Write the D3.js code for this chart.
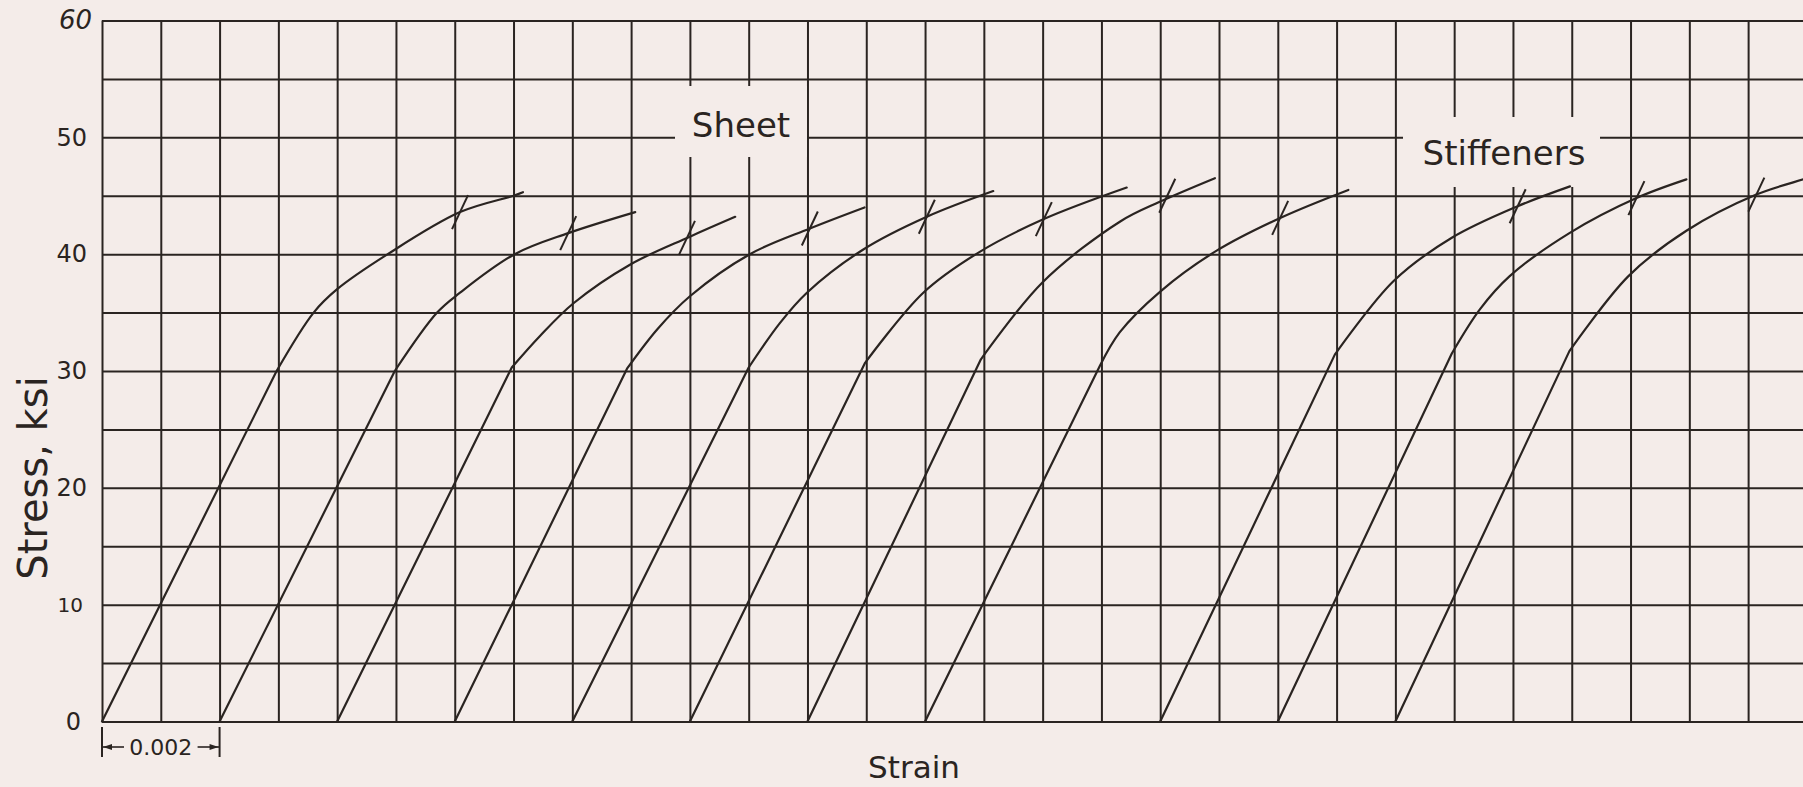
<!DOCTYPE html>
<html><head><meta charset="utf-8">
<script src="https://cdn.jsdelivr.net/npm/d3@7/dist/d3.min.js"></script>
<style>html,body{margin:0;padding:0;background:#f4ece9;overflow:hidden}</style>
</head><body><svg id="chart" width="1803" height="787"></svg>
<script>
// ---------------- data ----------------
const stressLabels = [0, 10, 20, 30, 40, 50, 60];          // ksi
const stressGrid = [0, 5, 10, 15, 20, 25, 30, 35, 40, 45, 50, 55, 60];
const strainCells = 29;                                      // grid divisions of 0.001
const sheetOffsets = [0, 0.002, 0.004, 0.006, 0.008, 0.010, 0.012, 0.014];
const stiffenerOffsets = [0.018, 0.020, 0.022];
// each curve: [strain above its own origin (x 0.001), stress ksi]; 2nd point = end of straight part
const sheet1 = [[0,0],[2.97,30],[3.6,35],[4,37],[4.86,40],[6.09,43.6],[7,45],[7.16,45.3]];
const sheet2 = [[0,0],[2.98,30],[3.7,35],[4.09,36.7],[5.02,40],[5.93,41.8],[7.07,43.6]];
const sheet3 = [[0,0],[2.97,30.3],[3.45,33],[4.02,35.8],[4.98,39.1],[6,41.5],[6.77,43.2]];
const sheet4 = [[0,0],[2.93,30.2],[3.45,33.6],[4,36.4],[5.02,40],[6.04,42.2],[6.97,44]];
const sheet5 = [[0,0],[3,30.3],[3.53,34.1],[3.99,36.7],[4.95,40.4],[6.03,43.2],[7.16,45.4]];
const sheet6 = [[0,0],[2.98,30.7],[3.97,36.7],[4.93,40.2],[6.02,43],[7.43,45.7]];
const sheet7 = [[0,0],[2.95,31],[4,37.6],[5.32,42.8],[6,44.5],[6.93,46.5]];
const sheet8 = [[0,0],[2.97,30.4],[3.31,33.3],[4,36.8],[4.96,40.3],[6.04,43.1],[7.2,45.5]];
const stiff1 = [[0,0],[2.97,31.4],[3.97,37.7],[4.96,41.4],[6.08,44.1],[6.97,45.8]];
const stiff2 = [[0,0],[2.96,31.5],[3.44,35.3],[3.94,38.1],[4.96,41.8],[6.1,44.8],[6.95,46.4]];
const stiff3 = [[0,0],[2.96,31.7],[3.96,38.1],[4.95,42],[6.14,45.1],[7,46.5],[7.3,47]];
const sheetCurves = [sheet1, sheet2, sheet3, sheet4, sheet5, sheet6, sheet7, sheet8];
const stiffenerCurves = [stiff1, stiff2, stiff3];
const sheetMarks = [[6.09,43.6],[5.93,41.8],[5.95,41.4],[6.04,42.2],[6.03,43.2],[6.02,43],[6.12,45],[6.04,43.1]];
const stiffenerMarks = [[6.08,44.1],[6.1,44.8],[6.14,45.1]];

// ---------------- drawing ----------------
const ink = "#2a2421", paper = "#f4ece9";
const W = 1803, H = 787;
const font = "DejaVu Sans";
const svg = d3.select("#chart");
svg.append("rect").attr("width", W).attr("height", H).attr("fill", paper);

const x = d3.scaleLinear().domain([0, strainCells * 0.001]).range([102, 102 + strainCells * 58.79]);
const y = d3.scaleLinear().domain([0, 60]).range([721.5, 20.5]);

// grid via axes
const gx = svg.append("g").attr("transform", `translate(0,${y(0)})`)
  .call(d3.axisBottom(x).ticks(strainCells).tickSize(-(y(0) - y(60))).tickFormat(""));
const gy = svg.append("g").attr("transform", `translate(${x(0)},0)`)
  .call(d3.axisLeft(y).tickValues(stressGrid).tickSize(-(W - x(0) + 10)).tickFormat(""));
[gx, gy].forEach(g => {
  g.select(".domain").remove();
  g.selectAll(".tick line").attr("stroke", ink).attr("stroke-width", 2);
});

// paper patches behind the labels
svg.append("rect").attr("x", 675).attr("y", 86).attr("width", 132).attr("height", 71).attr("fill", paper);
svg.append("rect").attr("x", 1403).attr("y", 117).attr("width", 197).attr("height", 70).attr("fill", paper);

// curves: straight elastic part, then smooth plastic part
const plot = svg.append("g");
function drawCurves(curves, offsets, marks) {
  curves.forEach((pts, i) => {
    const off = offsets[i];
    const straight = d3.line().x(d => x(off + d[0] / 1000)).y(d => y(d[1]));
    const bend = d3.line().x(d => x(off + d[0] / 1000)).y(d => y(d[1])).curve(d3.curveCatmullRom.alpha(0.5));
    const dPath = straight(pts.slice(0, 2)) + "L" + bend(pts.slice(1)).slice(1);
    plot.append("path").attr("d", dPath).attr("fill", "none")
      .attr("stroke", ink).attr("stroke-width", 2.2).attr("stroke-linecap", "round").attr("stroke-linejoin", "round");
    const m = marks[i];
    const cx = x(off + m[0] / 1000), cy = y(m[1]);
    plot.append("line").attr("x1", cx - 8).attr("y1", cy + 17).attr("x2", cx + 8).attr("y2", cy - 17)
      .attr("stroke", ink).attr("stroke-width", 2);
  });
}
drawCurves(sheetCurves, sheetOffsets, sheetMarks);
drawCurves(stiffenerCurves, stiffenerOffsets, stiffenerMarks);

// y tick labels
const labelShift = {0: -6, 10: -4, 60: 5};
const gl = svg.append("g").attr("transform", `translate(${x(0)},0)`)
  .call(d3.axisLeft(y).tickValues(stressLabels).tickSize(0).tickPadding(15).tickFormat(d3.format("d")));
gl.select(".domain").remove();
gl.selectAll("text").attr("fill", ink).attr("font-family", font)
  .attr("font-size", d => d === 10 ? 20 : d === 60 ? 26 : 24)
  .attr("font-style", d => d === 60 ? "italic" : "normal")
  .attr("dx", d => labelShift[d] || 0);

// text labels
svg.append("text").attr("x", 741).attr("y", 137).attr("text-anchor", "middle")
  .attr("font-family", font).attr("font-size", 34).attr("fill", ink).text("Sheet");
svg.append("text").attr("x", 1504).attr("y", 165).attr("text-anchor", "middle")
  .attr("font-family", font).attr("font-size", 34).attr("fill", ink).text("Stiffeners");
svg.append("text").attr("x", 914).attr("y", 778).attr("text-anchor", "middle")
  .attr("font-family", font).attr("font-size", 31).attr("fill", ink).text("Strain");
svg.append("text").attr("transform", "translate(47,478) rotate(-90)").attr("text-anchor", "middle")
  .attr("font-family", font).attr("font-size", 40).attr("fill", ink).text("Stress, ksi");

// 0.002 bracket
const bx0 = x(0), bx1 = x(0.002), by = 747;
svg.append("line").attr("x1", bx0).attr("x2", bx0).attr("y1", 727).attr("y2", 757).attr("stroke", ink).attr("stroke-width", 2);
svg.append("line").attr("x1", bx1).attr("x2", bx1).attr("y1", 727).attr("y2", 757).attr("stroke", ink).attr("stroke-width", 2);
svg.append("line").attr("x1", bx0).attr("x2", bx0 + 22).attr("y1", by).attr("y2", by).attr("stroke", ink).attr("stroke-width", 1.6);
svg.append("line").attr("x1", bx1 - 22).attr("x2", bx1).attr("y1", by).attr("y2", by).attr("stroke", ink).attr("stroke-width", 1.6);
svg.append("path").attr("d", `M${bx0+1},${by} l9,-3 l0,6 z`).attr("fill", ink);
svg.append("path").attr("d", `M${bx1-1},${by} l-9,-3 l0,6 z`).attr("fill", ink);
svg.append("text").attr("x", (bx0 + bx1) / 2).attr("y", by + 8).attr("text-anchor", "middle")
  .attr("font-family", font).attr("font-size", 22).attr("fill", ink).text("0.002");
</script></body></html>
